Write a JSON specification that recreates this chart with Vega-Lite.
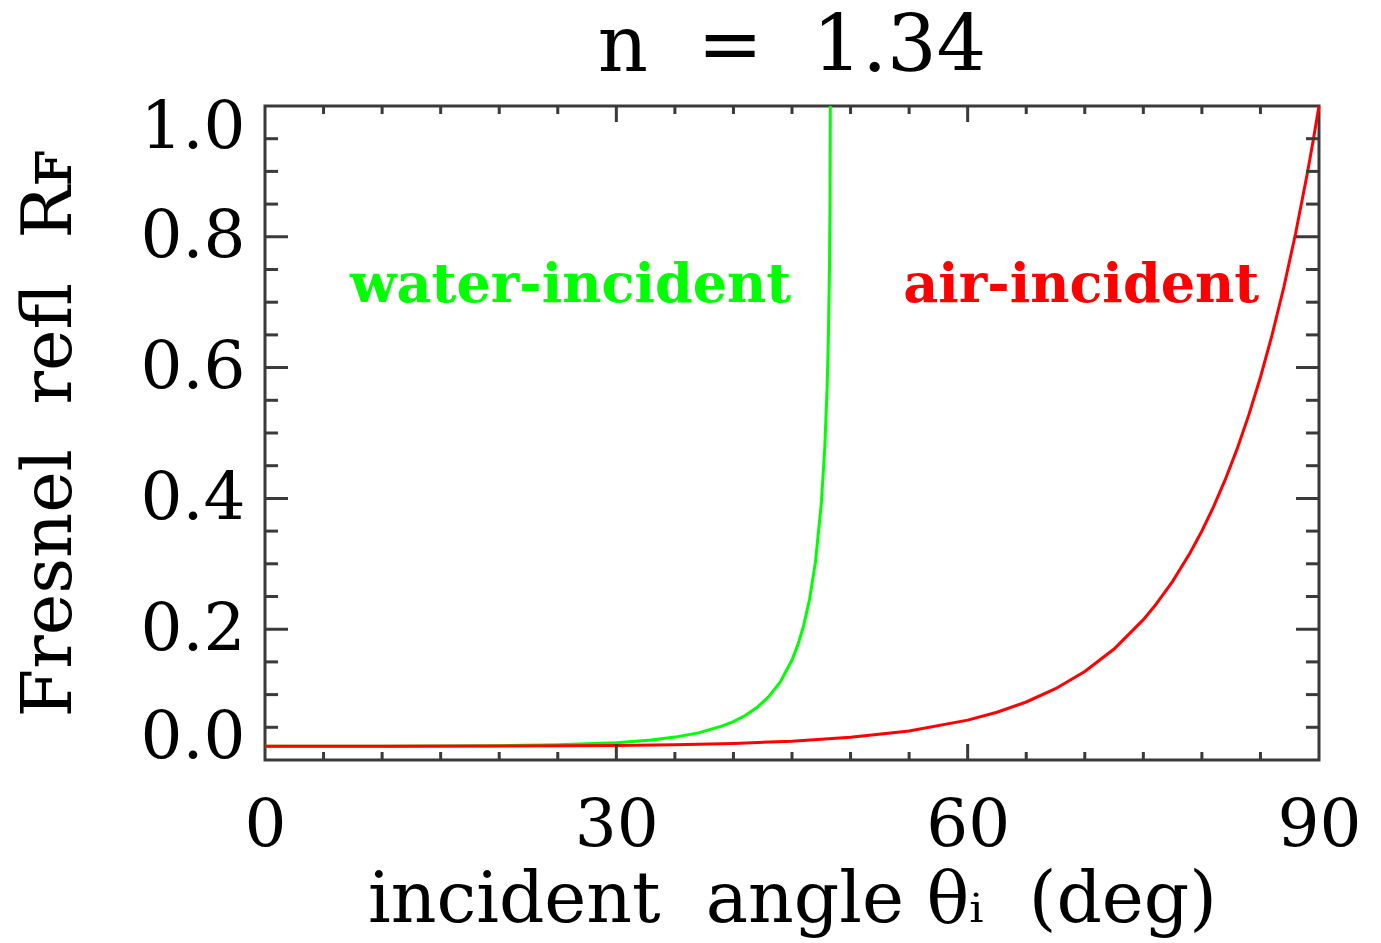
{
  "$schema": "https://vega.github.io/schema/vega-lite/v6.json",
  "width": 1054,
  "height": 654,
  "autosize": {"type": "none"},
  "padding": {"left": 265, "top": 106, "right": 62, "bottom": 183},
  "background": "white",
  "title": {"text": "n \u00a0= \u00a01.34", "font": "DejaVu Serif", "fontSize": 78, "fontWeight": "normal", "color": "black", "anchor": "middle", "offset": 7},
  "config": {"view": {"stroke": "#3a3a3a", "strokeWidth": 3}},
  "datasets": {
    "curves": [
      {"angle": 0, "R": 0.0211, "series": "air"},
      {"angle": 10, "R": 0.0211, "series": "air"},
      {"angle": 20, "R": 0.0213, "series": "air"},
      {"angle": 30, "R": 0.0222, "series": "air"},
      {"angle": 35, "R": 0.0233, "series": "air"},
      {"angle": 40, "R": 0.0253, "series": "air"},
      {"angle": 45, "R": 0.0288, "series": "air"},
      {"angle": 50, "R": 0.0347, "series": "air"},
      {"angle": 55, "R": 0.0445, "series": "air"},
      {"angle": 60, "R": 0.0610, "series": "air"},
      {"angle": 62.5, "R": 0.0731, "series": "air"},
      {"angle": 65, "R": 0.0887, "series": "air"},
      {"angle": 67.5, "R": 0.1090, "series": "air"},
      {"angle": 70, "R": 0.1354, "series": "air"},
      {"angle": 72.5, "R": 0.1697, "series": "air"},
      {"angle": 75, "R": 0.2146, "series": "air"},
      {"angle": 76, "R": 0.2362, "series": "air"},
      {"angle": 77.5, "R": 0.2732, "series": "air"},
      {"angle": 79, "R": 0.3169, "series": "air"},
      {"angle": 80, "R": 0.3502, "series": "air"},
      {"angle": 81, "R": 0.3874, "series": "air"},
      {"angle": 82, "R": 0.4290, "series": "air"},
      {"angle": 83, "R": 0.4753, "series": "air"},
      {"angle": 84, "R": 0.5273, "series": "air"},
      {"angle": 85, "R": 0.5853, "series": "air"},
      {"angle": 86, "R": 0.6503, "series": "air"},
      {"angle": 87, "R": 0.7232, "series": "air"},
      {"angle": 88, "R": 0.8050, "series": "air"},
      {"angle": 89, "R": 0.8968, "series": "air"},
      {"angle": 89.5, "R": 0.9469, "series": "air"},
      {"angle": 90, "R": 1.0, "series": "air"},
      {"angle": 0, "R": 0.0211, "series": "water"},
      {"angle": 10, "R": 0.0212, "series": "water"},
      {"angle": 20, "R": 0.0218, "series": "water"},
      {"angle": 25, "R": 0.0232, "series": "water"},
      {"angle": 30, "R": 0.0265, "series": "water"},
      {"angle": 33, "R": 0.0306, "series": "water"},
      {"angle": 35, "R": 0.0350, "series": "water"},
      {"angle": 37, "R": 0.0415, "series": "water"},
      {"angle": 39, "R": 0.0517, "series": "water"},
      {"angle": 40, "R": 0.0588, "series": "water"},
      {"angle": 41, "R": 0.0681, "series": "water"},
      {"angle": 42, "R": 0.0802, "series": "water"},
      {"angle": 43, "R": 0.0966, "series": "water"},
      {"angle": 44, "R": 0.1194, "series": "water"},
      {"angle": 45, "R": 0.1529, "series": "water"},
      {"angle": 45.5, "R": 0.1760, "series": "water"},
      {"angle": 46, "R": 0.2058, "series": "water"},
      {"angle": 46.5, "R": 0.2457, "series": "water"},
      {"angle": 47, "R": 0.3023, "series": "water"},
      {"angle": 47.5, "R": 0.3914, "series": "water"},
      {"angle": 47.8, "R": 0.4782, "series": "water"},
      {"angle": 48, "R": 0.5704, "series": "water"},
      {"angle": 48.1, "R": 0.6402, "series": "water"},
      {"angle": 48.2, "R": 0.7517, "series": "water"},
      {"angle": 48.25, "R": 0.8629, "series": "water"},
      {"angle": 48.27, "R": 1.0, "series": "water"}
    ],
    "labels": [
      {"angle": 26.1, "R": 0.70, "label": "water-incident", "series": "water"},
      {"angle": 69.7, "R": 0.70, "label": "air-incident", "series": "air"}
    ],
    "xticks": [
      {"v": 5, "kind": "minor"}, {"v": 10, "kind": "minor"}, {"v": 15, "kind": "minor"},
      {"v": 20, "kind": "minor"}, {"v": 25, "kind": "minor"}, {"v": 30, "kind": "major"},
      {"v": 35, "kind": "minor"}, {"v": 40, "kind": "minor"}, {"v": 45, "kind": "minor"},
      {"v": 50, "kind": "minor"}, {"v": 55, "kind": "minor"}, {"v": 60, "kind": "major"},
      {"v": 65, "kind": "minor"}, {"v": 70, "kind": "minor"}, {"v": 75, "kind": "minor"},
      {"v": 80, "kind": "minor"}, {"v": 85, "kind": "minor"}
    ],
    "yticks": [
      {"v": 0.05, "kind": "minor"}, {"v": 0.1, "kind": "minor"}, {"v": 0.15, "kind": "minor"},
      {"v": 0.2, "kind": "major"}, {"v": 0.25, "kind": "minor"}, {"v": 0.3, "kind": "minor"},
      {"v": 0.35, "kind": "minor"}, {"v": 0.4, "kind": "major"}, {"v": 0.45, "kind": "minor"},
      {"v": 0.5, "kind": "minor"}, {"v": 0.55, "kind": "minor"}, {"v": 0.6, "kind": "major"},
      {"v": 0.65, "kind": "minor"}, {"v": 0.7, "kind": "minor"}, {"v": 0.75, "kind": "minor"},
      {"v": 0.8, "kind": "major"}, {"v": 0.85, "kind": "minor"}, {"v": 0.9, "kind": "minor"},
      {"v": 0.95, "kind": "minor"}
    ]
  },
  "layer": [
    {
      "data": {"name": "curves"},
      "transform": [{"filter": "datum.series === 'water'"}],
      "mark": {"type": "line", "color": "#00ff00", "strokeWidth": 3},
      "encoding": {
        "x": {"field": "angle", "type": "quantitative", "scale": {"domain": [0, 90], "nice": false, "zero": false},
          "axis": {"values": [0, 30, 60, 90], "format": "d", "ticks": false, "domain": false, "grid": false,
            "labelFlush": false, "labelOverlap": false, "labelBound": false,
            "labelFont": "DejaVu Serif", "labelFontSize": 66, "labelColor": "black", "labelPadding": 33,
            "title": "incident \u00a0angle θᵢ \u00a0(deg)", "titleFont": "DejaVu Serif", "titleFontSize": 71,
            "titleFontWeight": "normal", "titleColor": "black", "titlePadding": 7}},
        "y": {"field": "R", "type": "quantitative", "scale": {"domain": [0, 1], "nice": false},
          "axis": {"values": [0, 0.2, 0.4, 0.6, 0.8, 1.0], "format": ".1f", "ticks": false, "domain": false, "grid": false,
            "labelFlush": true, "labelFlushOffset": 11, "labelOverlap": false, "labelBound": false,
            "labelFont": "DejaVu Serif", "labelFontSize": 66, "labelColor": "black", "labelPadding": 20,
            "title": "Fresnel \u00a0refl \u00a0Rꜰ", "titleFont": "DejaVu Serif", "titleFontSize": 70,
            "titleFontWeight": "normal", "titleColor": "black", "titlePadding": 55}}
      }
    },
    {
      "data": {"name": "curves"},
      "transform": [{"filter": "datum.series === 'air'"}],
      "mark": {"type": "line", "color": "#ff0000", "strokeWidth": 3},
      "encoding": {
        "x": {"field": "angle", "type": "quantitative", "scale": {"domain": [0, 90], "nice": false, "zero": false}},
        "y": {"field": "R", "type": "quantitative", "scale": {"domain": [0, 1], "nice": false}}
      }
    },
    {
      "data": {"name": "xticks"},
      "transform": [{"filter": "datum.kind === 'major'"}],
      "layer": [
        {"mark": {"type": "tick", "orient": "vertical", "clip": true, "color": "#3a3a3a", "thickness": 3, "size": 32, "opacity": 1},
         "encoding": {"x": {"field": "v", "type": "quantitative", "scale": {"domain": [0, 90], "nice": false, "zero": false}},
                      "y": {"datum": 0, "type": "quantitative", "scale": {"domain": [0, 1], "nice": false}}}},
        {"mark": {"type": "tick", "orient": "vertical", "clip": true, "color": "#3a3a3a", "thickness": 3, "size": 32, "opacity": 1},
         "encoding": {"x": {"field": "v", "type": "quantitative", "scale": {"domain": [0, 90], "nice": false, "zero": false}},
                      "y": {"datum": 1, "type": "quantitative", "scale": {"domain": [0, 1], "nice": false}}}}
      ]
    },
    {
      "data": {"name": "xticks"},
      "transform": [{"filter": "datum.kind === 'minor'"}],
      "layer": [
        {"mark": {"type": "tick", "orient": "vertical", "clip": true, "color": "#3a3a3a", "thickness": 3, "size": 16, "opacity": 1},
         "encoding": {"x": {"field": "v", "type": "quantitative", "scale": {"domain": [0, 90], "nice": false, "zero": false}},
                      "y": {"datum": 0, "type": "quantitative", "scale": {"domain": [0, 1], "nice": false}}}},
        {"mark": {"type": "tick", "orient": "vertical", "clip": true, "color": "#3a3a3a", "thickness": 3, "size": 16, "opacity": 1},
         "encoding": {"x": {"field": "v", "type": "quantitative", "scale": {"domain": [0, 90], "nice": false, "zero": false}},
                      "y": {"datum": 1, "type": "quantitative", "scale": {"domain": [0, 1], "nice": false}}}}
      ]
    },
    {
      "data": {"name": "yticks"},
      "transform": [{"filter": "datum.kind === 'major'"}],
      "layer": [
        {"mark": {"type": "tick", "orient": "horizontal", "clip": true, "color": "#3a3a3a", "thickness": 3, "size": 46, "opacity": 1},
         "encoding": {"y": {"field": "v", "type": "quantitative", "scale": {"domain": [0, 1], "nice": false}},
                      "x": {"datum": 0, "type": "quantitative", "scale": {"domain": [0, 90], "nice": false, "zero": false}}}},
        {"mark": {"type": "tick", "orient": "horizontal", "clip": true, "color": "#3a3a3a", "thickness": 3, "size": 46, "opacity": 1},
         "encoding": {"y": {"field": "v", "type": "quantitative", "scale": {"domain": [0, 1], "nice": false}},
                      "x": {"datum": 90, "type": "quantitative", "scale": {"domain": [0, 90], "nice": false, "zero": false}}}}
      ]
    },
    {
      "data": {"name": "yticks"},
      "transform": [{"filter": "datum.kind === 'minor'"}],
      "layer": [
        {"mark": {"type": "tick", "orient": "horizontal", "clip": true, "color": "#3a3a3a", "thickness": 3, "size": 26, "opacity": 1},
         "encoding": {"y": {"field": "v", "type": "quantitative", "scale": {"domain": [0, 1], "nice": false}},
                      "x": {"datum": 0, "type": "quantitative", "scale": {"domain": [0, 90], "nice": false, "zero": false}}}},
        {"mark": {"type": "tick", "orient": "horizontal", "clip": true, "color": "#3a3a3a", "thickness": 3, "size": 26, "opacity": 1},
         "encoding": {"y": {"field": "v", "type": "quantitative", "scale": {"domain": [0, 1], "nice": false}},
                      "x": {"datum": 90, "type": "quantitative", "scale": {"domain": [0, 90], "nice": false, "zero": false}}}}
      ]
    },
    {
      "data": {"name": "labels"},
      "mark": {"type": "text", "font": "DejaVu Serif", "fontWeight": "bold", "fontSize": 54, "align": "center", "baseline": "alphabetic"},
      "encoding": {
        "x": {"field": "angle", "type": "quantitative", "scale": {"domain": [0, 90], "nice": false, "zero": false}},
        "y": {"field": "R", "type": "quantitative", "scale": {"domain": [0, 1], "nice": false}},
        "text": {"field": "label"},
        "color": {"field": "series", "type": "nominal", "scale": {"domain": ["water", "air"], "range": ["#00ff00", "#ff0000"]}, "legend": null}
      }
    }
  ]
}
